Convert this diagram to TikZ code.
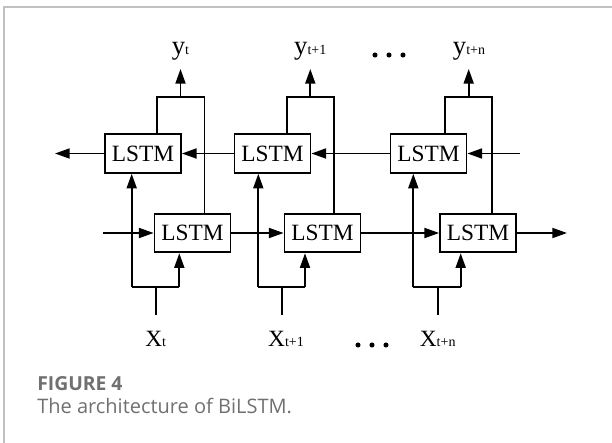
\documentclass[tikz,border=0pt]{standalone}
\usepackage{fontspec}
\setmainfont{Liberation Serif}
\newfontfamily\capfont{Open Sans}
\usetikzlibrary{arrows.meta}

\definecolor{framegray}{RGB}{192,192,192}
\definecolor{capgray}{RGB}{112,112,112}

\tikzset{
  cell/.style={draw, line width=1.35pt, minimum width=57pt, minimum height=29pt, inner sep=0pt, font=\fontsize{17.5}{19}\selectfont},
  wire/.style={line width=1.35pt},
  flow/.style={wire, -{Triangle[length=11pt,width=7.5pt]}},
  lbl/.style={inner sep=0pt, anchor=base},
}
\newcommand{\outvar}[1]{{\fontsize{20}{21}\selectfont y}{\fontsize{10.5}{11}\selectfont #1}}
\newcommand{\invar}[1]{{\fontsize{17.5}{18}\selectfont X}{\fontsize{10.5}{11}\selectfont #1}}

\begin{document}
\begin{tikzpicture}[x=0.75pt,y=0.75pt,yscale=-1,xscale=1]
\useasboundingbox (0,0) rectangle (612,443);
% frame
\draw [framegray, line width=1pt] (4,443) -- (4,7) -- (612,7);

% backward LSTM row
\node [cell] (u1) at (143,153.5) {LSTM};
\node [cell] (u2) at (272.5,153.5) {LSTM};
\node [cell] (u3) at (428.5,153.5) {LSTM};
% forward LSTM row
\node [cell] (l1) at (192.5,233) {LSTM};
\node [cell] (l2) at (322.5,233) {LSTM};
\node [cell] (l3) at (478,233) {LSTM};

% outputs
\node [lbl] (y1) at (180.5,54) {\outvar{t}};
\node [lbl] (y2) at (310.3,54) {\outvar{t+1}};
\node [lbl] (y3) at (469,54) {\outvar{t+n}};
% inputs
\node [lbl] (x1) at (155.7,346.7) {\invar{t}};
\node [lbl] (x2) at (286,346.7) {\invar{t+1}};
\node [lbl] (x3) at (437.7,346.7) {\invar{t+n}};

%Output junctions
\coordinate (ol1) at (157,97);   \coordinate (o1) at (180.5,97); \coordinate (or1) at (204.5,97);
\coordinate (ol2) at (286.7,97); \coordinate (o2) at (310.3,97); \coordinate (or2) at (334,97);
\coordinate (ol3) at (445,97);   \coordinate (o3) at (468.7,97); \coordinate (or3) at (492.3,97);
\coordinate (yt1) at (180.5,69); \coordinate (yt2) at (310.3,69); \coordinate (yt3) at (468.7,69);
%Input junctions
\coordinate (il1) at (131.7,287); \coordinate (i1) at (155.7,287); \coordinate (ir1) at (179.3,287);
\coordinate (il2) at (258.3,287); \coordinate (i2) at (282.3,287); \coordinate (ir2) at (305,287);
\coordinate (il3) at (413.3,287); \coordinate (i3) at (437.7,287); \coordinate (ir3) at (460.7,287);
\coordinate (xb1) at (155.7,315); \coordinate (xb2) at (282.3,315); \coordinate (xb3) at (437.7,315);
%Row ends
\coordinate (bl) at (55,153.5);  \coordinate (br) at (520,153.5);
\coordinate (fl) at (103,233);   \coordinate (fr) at (567,233);

%Backward chain
\draw [flow] (u1.west) -- (bl);
\draw [flow] (u2.west) -- (u1.east);
\draw [flow] (u3.west) -- (u2.east);
\draw [flow] (br) -- (u3.east);
%Forward chain
\draw [flow] (fl) -- (l1.west);
\draw [flow] (l1.east) -- (l2.west);
\draw [flow] (l2.east) -- (l3.west);
\draw [flow] (l3.east) -- (fr);

%Merging both directions into y
\draw [wire] (u1.north -| ol1) -- (ol1) -- (or1) -- (l1.north -| or1);
\draw [flow] (o1) -- (yt1);
\draw [wire] (u2.north -| ol2) -- (ol2) -- (or2) -- (l2.north -| or2);
\draw [flow] (o2) -- (yt2);
\draw [wire] (u3.north -| ol3) -- (ol3) -- (or3) -- (l3.north -| or3);
\draw [flow] (o3) -- (yt3);

%Feeding x into both directions
\draw [wire] (xb1) -- (i1);
\draw [wire] (il1) -- (ir1);
\draw [flow] (il1) -- (il1 |- u1.south);
\draw [flow] (ir1) -- (ir1 |- l1.south);
\draw [wire] (xb2) -- (i2);
\draw [wire] (il2) -- (ir2);
\draw [flow] (il2) -- (il2 |- u2.south);
\draw [flow] (ir2) -- (ir2 |- l2.south);
\draw [wire] (xb3) -- (i3);
\draw [wire] (il3) -- (ir3);
\draw [flow] (il3) -- (il3 |- u3.south);
\draw [flow] (ir3) -- (ir3 |- l3.south);

%Dots
\fill (375,55) circle (1.9pt);
\fill (389,55) circle (1.9pt);
\fill (403,55) circle (1.9pt);
\fill (358,345) circle (1.9pt);
\fill (372,345) circle (1.9pt);
\fill (386,345) circle (1.9pt);

% caption
\node [anchor=base west, inner sep=0pt, text=capgray, font=\capfont\bfseries\fontsize{14.5}{16}\selectfont] (figno) at (37,390.7) {FIGURE 4};
\node [anchor=base west, inner sep=0pt, text=capgray, font=\capfont\fontsize{15}{17}\selectfont] (figcap) at (37,413.3) {The architecture of BiLSTM.};
\end{tikzpicture}
\end{document}
